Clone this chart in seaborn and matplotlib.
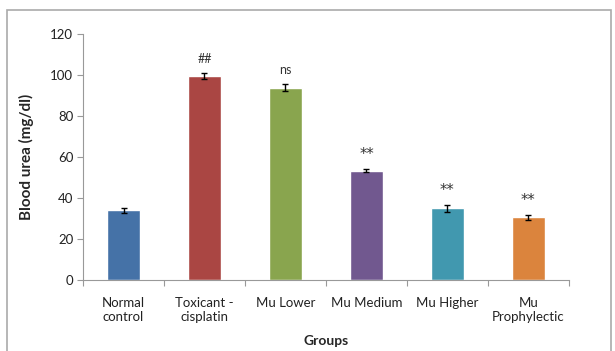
import numpy as np
import pandas as pd
import matplotlib
matplotlib.use('Agg')
import matplotlib.pyplot as plt
import seaborn as sns
from matplotlib.patches import Rectangle

groups = ['Normal\ncontrol', 'Toxicant -\ncisplatin', 'Mu Lower', 'Mu Medium',
          'Mu Higher', 'Mu\nProphylectic']
urea = [34.0, 99.5, 93.8, 53.3, 35.0, 30.5]
urea_err = [1.3, 1.5, 1.6, 0.8, 1.6, 1.3]
marks = ['', '##', 'ns', '**', '**', '**']
colors = ['#4572A7', '#AA4643', '#89A54E', '#71588F', '#4198AF', '#DB843D']

sns.set_style('white')
plt.rcParams['font.family'] = ['Lato', 'DejaVu Sans']

df = pd.DataFrame({'group': groups, 'urea': urea})

fig = plt.figure(figsize=(6.15, 3.51), dpi=100)
ax = fig.add_axes([0.135, 0.2023, 0.79, 0.7008])

sns.barplot(data=df, x='group', y='urea', hue='group', palette=colors,
            width=0.41, legend=False, ax=ax, saturation=1)
ax.errorbar(np.arange(len(groups)), urea, yerr=urea_err, fmt='none',
            ecolor='black', elinewidth=1, capsize=2.5, capthick=1)

for i, (v, e, m) in enumerate(zip(urea, urea_err, marks)):
    if m == '**':
        ax.text(i, v + e + 3.5, m, ha='center', va='bottom', fontsize=10.5,
                color='#333333', family='DejaVu Sans')
    elif m:
        ax.text(i, v + e + 4, m, ha='center', va='bottom', fontsize=9,
                color='#333333')

ax.set_ylim(0, 120)
ax.set_xlim(-0.5, len(groups) - 0.5)
ax.set_yticks(range(0, 121, 20))
ax.tick_params(axis='y', length=4, width=0.8, color='#999999', labelsize=9.5,
               labelcolor='#222222', pad=3, left=True)
ax.tick_params(axis='x', which='major', length=0, labelsize=9.5,
               labelcolor='#222222', pad=12)
ax.set_xticks(np.arange(-0.5, len(groups)), minor=True)
ax.tick_params(axis='x', which='minor', length=4, width=0.8, color='#999999',
               bottom=True)
for lbl in ax.get_xticklabels():
    lbl.set_multialignment('center')

for s in ['top', 'right']:
    ax.spines[s].set_visible(False)
for s in ['left', 'bottom']:
    ax.spines[s].set_color('#999999')
    ax.spines[s].set_linewidth(0.8)

ax.set_xlabel('Groups', fontsize=10, fontweight='bold', labelpad=9)
ax.set_ylabel('Blood urea (mg/dl)', fontsize=11, fontweight='bold', labelpad=12)

fig.patches.append(Rectangle((7 / 615, -0.01), 604 / 615, 1 - 10 / 351 + 0.01,
                             transform=fig.transFigure, fill=False,
                             edgecolor='#aaaaaa', linewidth=1.2))

fig.savefig('out.png', dpi=100)
